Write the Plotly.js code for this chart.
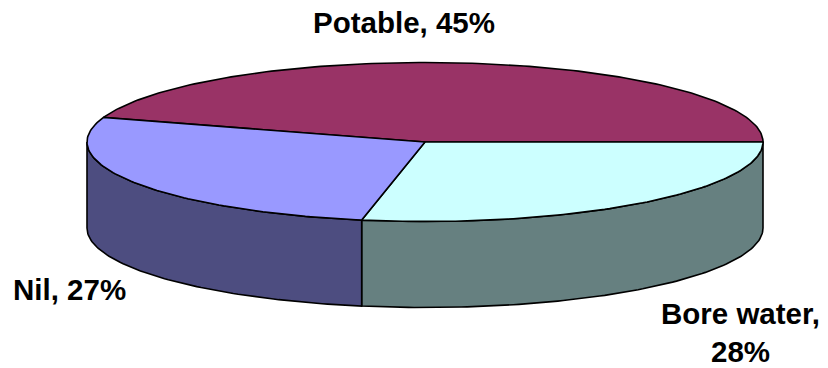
<!DOCTYPE html>
<html>
<head>
<meta charset="utf-8">
<script src="https://cdn.plot.ly/plotly-3.0.1.min.js"></script>
<style>
  html, body { margin: 0; padding: 0; background: #ffffff; }
  #chart { width: 828px; height: 368px; }
</style>
</head>
<body>
<div id="chart"></div>
<script>
// Water source shares
const labels = ['Potable', 'Bore water', 'Nil'];
const values = [45, 28, 27];
const topColors = ['#993366', '#CCFFFF', '#9999FF'];
const sideColors = ['#4D1A33', '#668080', '#4D4D80'];

// Geometry of the tilted disc, in plot units (axes span the page in pixels)
const cx = 425, cy = 142, rx = 338, ry = 79.5, depth = 86;
const total = values.reduce((a, b) => a + b, 0);
// First slice ends at 3 o'clock; angles run clockwise on screen
const startDeg = -values[0] / total * 360;

function pt(deg, dy) {
  const r = deg * Math.PI / 180;
  return [cx + rx * Math.cos(r), cy + ry * Math.sin(r) + (dy || 0)];
}
function arc(a1, a2, dy) {
  const n = Math.max(2, Math.ceil(Math.abs(a2 - a1) / 1));
  const out = [];
  for (let i = 0; i <= n; i++) out.push(pt(a1 + (a2 - a1) * i / n, dy));
  return out;
}

const slices = [];
let acc = startDeg;
values.forEach((v, i) => {
  const a1 = acc, a2 = acc + v / total * 360;
  slices.push({ i, a1, a2 });
  acc = a2;
});

const traces = [];
const edge = { color: '#000000', width: 1.6 };

// Front walls (only the near half of the rim is visible)
slices.forEach(s => {
  for (let k = -1; k <= 1; k++) {
    const lo = Math.max(s.a1, 0 + 360 * k), hi = Math.min(s.a2, 180 + 360 * k);
    if (hi - lo <= 0.01) continue;
    const topArc = arc(lo, hi, 0);
    const botArc = arc(hi, lo, depth);
    const poly = topArc.concat(botArc);
    poly.push(poly[0]);
    traces.push({
      type: 'scatter', mode: 'lines', fill: 'toself',
      x: poly.map(p => p[0]), y: poly.map(p => p[1]),
      fillcolor: sideColors[s.i], line: edge,
      hoverinfo: 'skip', showlegend: false
    });
  }
});

// Top faces
slices.forEach(s => {
  const poly = [[cx, cy]].concat(arc(s.a1, s.a2, 0));
  poly.push([cx, cy]);
  traces.push({
    type: 'scatter', mode: 'lines', fill: 'toself',
    x: poly.map(p => p[0]), y: poly.map(p => p[1]),
    fillcolor: topColors[s.i], line: edge,
    hoverinfo: 'skip', showlegend: false
  });
});

// Category labels with their percentages
const labelPos = [
  { x: 404, y: 22, text: l => `${l}, ` },
  { x: 740, y: 332, text: l => `${l},<br>` },
  { x: 69, y: 289, text: l => `${l}, ` }
];
const annotations = labels.map((l, i) => ({
  x: labelPos[i].x, y: labelPos[i].y, xref: 'x', yref: 'y',
  text: '<b>' + labelPos[i].text(l) + values[i] + '%</b>',
  showarrow: false, align: 'center',
  xanchor: 'center', yanchor: 'middle',
  font: { family: 'Arial, "Liberation Sans", sans-serif', size: 29.5, color: '#000000' }
}));

const layout = {
  width: 828, height: 368,
  margin: { l: 0, r: 0, t: 0, b: 0 },
  paper_bgcolor: '#ffffff', plot_bgcolor: '#ffffff',
  xaxis: { range: [0, 828], visible: false, fixedrange: true },
  yaxis: { range: [368, 0], visible: false, fixedrange: true },
  annotations,
  showlegend: false
};

Plotly.newPlot('chart', traces, layout, { staticPlot: true, displayModeBar: false });
</script>
</body>
</html>
